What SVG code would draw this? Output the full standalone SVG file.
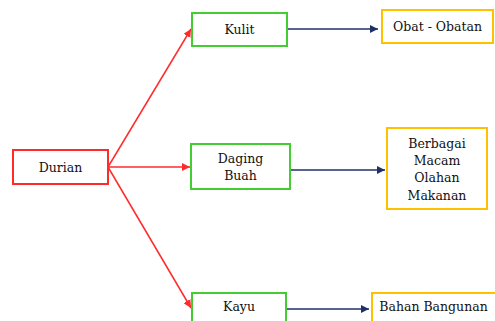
<svg xmlns="http://www.w3.org/2000/svg" width="495" height="321" viewBox="0 0 495 321">
<defs>
<style>
text{font-family:'DejaVu Serif',serif;font-size:12.5px;fill:#111;text-anchor:middle;dominant-baseline:central}
.red{fill:#fff;stroke:#ff2b2b;stroke-width:2}
.grn{fill:#fff;stroke:#44cc33;stroke-width:2}
.yel{fill:#fff;stroke:#ffc000;stroke-width:2}
.rl{stroke:#ff2b2b;stroke-width:1.5;fill:none}
.bl{stroke:#1f3068;stroke-width:1.5;fill:none}
</style>
<marker id="ar" viewBox="0 0 10 10" refX="10" refY="5" markerWidth="8" markerHeight="8" markerUnits="userSpaceOnUse" orient="auto"><path d="M0,0 L10,5 L0,10 z" fill="#ff2b2b"/></marker>
<marker id="ab" viewBox="0 0 10 10" refX="10" refY="5" markerWidth="8" markerHeight="8" markerUnits="userSpaceOnUse" orient="auto"><path d="M0,0 L10,5 L0,10 z" fill="#1f3068"/></marker>
</defs>
<rect width="495" height="321" fill="#fff"/>
<g id="connectors">
<line class="rl" x1="108" y1="167" x2="191" y2="29" marker-end="url(#ar)"/>
<line class="rl" x1="108" y1="167" x2="190" y2="167" marker-end="url(#ar)"/>
<line class="rl" x1="108" y1="167" x2="191" y2="308" marker-end="url(#ar)"/>
<line class="bl" x1="287" y1="29" x2="378" y2="29" marker-end="url(#ab)"/>
<line class="bl" x1="290" y1="170" x2="385" y2="170" marker-end="url(#ab)"/>
<line class="bl" x1="286" y1="309" x2="369" y2="309" marker-end="url(#ab)"/>
</g>
<g id="durian"><rect class="red" x="13" y="150" width="95" height="34"/><text x="60.5" y="167">Durian</text></g>
<g id="kulit"><rect class="grn" x="192" y="13" width="95" height="33"/><text x="239.5" y="29.5">Kulit</text></g>
<g id="obat"><rect class="yel" x="382" y="10" width="111" height="33"/><text x="437.5" y="26.5">Obat - Obatan</text></g>
<g id="daging"><rect class="grn" x="191" y="144" width="99" height="45"/><text x="240.5" y="158.5">Daging</text><text x="240.5" y="175.5">Buah</text></g>
<g id="berbagai"><rect class="yel" x="387" y="128" width="100" height="81"/><text x="437" y="143.5">Berbagai</text><text x="437" y="160.5">Macam</text><text x="437" y="177.5">Olahan</text><text x="437" y="195">Makanan</text></g>
<g id="kayu"><rect class="grn" x="192" y="293" width="94" height="40"/><text x="239" y="306.5">Kayu</text></g>
<g id="bahan"><rect class="yel" x="372" y="293" width="130" height="40"/><text x="433.5" y="306.5">Bahan Bangunan</text></g>
</svg>
